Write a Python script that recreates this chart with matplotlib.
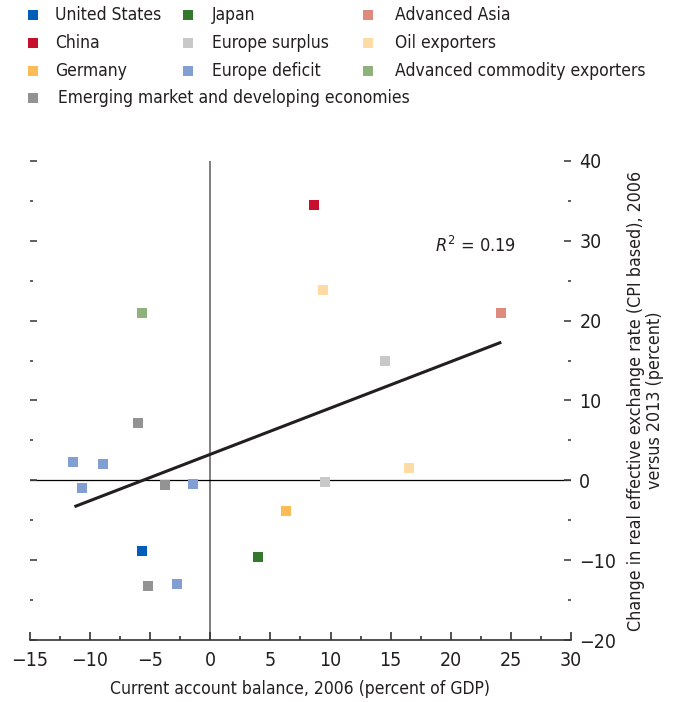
import matplotlib
matplotlib.use("Agg")
import matplotlib.pyplot as plt
from matplotlib import font_manager as fm
from matplotlib.lines import Line2D
from matplotlib.ticker import MultipleLocator

# pick a narrow sans face if one is around
faces = {(f.name, f.stretch) for f in fm.fontManager.ttflist}
if any(n == 'Liberation Sans Narrow' for n, _ in faces):
    base, stretch = 'Liberation Sans Narrow', 'normal'
elif ('DejaVu Sans', 'condensed') in faces:
    base, stretch = 'DejaVu Sans', 'condensed'
else:
    base, stretch = 'Liberation Sans', 'normal'

plt.rcParams['font.family'] = [base, 'DejaVu Sans']
plt.rcParams['font.stretch'] = stretch
plt.rcParams['mathtext.fontset'] = 'custom'
plt.rcParams['mathtext.it'] = f'{base}:italic'
plt.rcParams['mathtext.rm'] = base

# current account 2006 (% of GDP) vs REER change 2006-2013 (%)
groups = ['United States', 'Japan', 'Advanced Asia',
          'China', 'Europe surplus', 'Oil exporters',
          'Germany', 'Europe deficit', 'Advanced commodity exporters',
          'Emerging market and developing economies']
colors = ['#005EB8', '#34782E', '#E08A7E',
          '#C8102E', '#C8C8C8', '#FDDBA4',
          '#FDBB55', '#829FD4', '#8FB27C',
          '#939393']
ca_2006 = {
    'United States': [-5.7],
    'Japan': [4.0],
    'Advanced Asia': [24.2],
    'China': [8.6],
    'Europe surplus': [14.5, 9.5],
    'Oil exporters': [9.4, 16.5],
    'Germany': [6.3],
    'Europe deficit': [-11.4, -8.9, -10.7, -1.4, -2.8],
    'Advanced commodity exporters': [-5.7],
    'Emerging market and developing economies': [-6.0, -3.8, -5.2],
}
reer_change = {
    'United States': [-8.9],
    'Japan': [-9.6],
    'Advanced Asia': [21.0],
    'China': [34.5],
    'Europe surplus': [15.0, -0.2],
    'Oil exporters': [23.9, 1.6],
    'Germany': [-3.9],
    'Europe deficit': [2.3, 2.1, -1.0, -0.5, -13.0],
    'Advanced commodity exporters': [21.0],
    'Emerging market and developing economies': [7.2, -0.6, -13.2],
}
fit_x = [-11.3, 24.2]
fit_y = [-3.3, 17.3]
r_squared = 0.19

fig = plt.figure(figsize=(6.81, 7.02), dpi=100)
ax = fig.add_axes([0.044, 0.0883, 0.7945, 0.6824])

txt = '#231f20'
ax.axvline(0, color='#7f7f7f', lw=1.4, zorder=1)
ax.axhline(0, color='#000000', lw=0.9, zorder=1)
ax.plot(fit_x, fit_y, color='#231f20', lw=2.2, zorder=3, solid_capstyle='butt')

for g, c in zip(groups, colors):
    ax.scatter(ca_2006[g], reer_change[g], marker='s', s=55, color=c,
               linewidths=0, zorder=2)

ax.text(18.7, 29.4, f'$R^2$ = {r_squared:.2f}',
        fontsize=13, color=txt, ha='left', va='center')

ax.set_xlim(-15, 30)
ax.set_ylim(-20, 40)
ax.xaxis.set_major_locator(MultipleLocator(5))
ax.xaxis.set_minor_locator(MultipleLocator(2.5))
ax.yaxis.set_major_locator(MultipleLocator(10))
ax.yaxis.set_minor_locator(MultipleLocator(5))

for s in ['top', 'left', 'right']:
    ax.spines[s].set_visible(False)
ax.spines['bottom'].set_color('#333333')
ax.spines['bottom'].set_linewidth(1.2)

ax.tick_params(axis='x', which='both', direction='in', color='#333333',
               labelsize=14, labelcolor=txt, pad=8)
ax.tick_params(axis='x', which='major', length=6, width=1.2)
ax.tick_params(axis='x', which='minor', length=3, width=1.2)
ax.tick_params(axis='y', which='both', direction='in', left=True, right=True,
               labelleft=False, labelright=True, color='#444444',
               labelsize=14, labelcolor=txt, pad=6)
ax.tick_params(axis='y', which='major', length=5, width=1.2)
ax.tick_params(axis='y', which='minor', length=2.5, width=1.2)

ax.set_xlabel('Current account balance, 2006 (percent of GDP)',
              fontsize=12.6, color=txt, labelpad=7)
ax.yaxis.set_label_position('right')
ax.set_ylabel('Change in real effective exchange rate (CPI based), 2006\nversus 2013 (percent)',
              fontsize=12.8, color=txt, labelpad=8, linespacing=1.05)

# legend drawn by hand: three columns plus a full-width last row
W, H = 681, 702
marker_x = [33, 188, 368]
text_x = [55, 212, 395]
row_y = [15, 43, 71]
for i, (g, c) in enumerate(zip(groups, colors)):
    if i < 9:
        mx, tx, my = marker_x[i % 3], text_x[i % 3], row_y[i // 3]
    else:
        mx, tx, my = 33, 58, 98
    fig.add_artist(Line2D([mx / W], [1 - my / H], marker='s', markersize=7.5,
                          color=c, markeredgewidth=0, transform=fig.transFigure))
    fig.text(tx / W, 1 - my / H, g, fontsize=12.5, color=txt,
             ha='left', va='center')

fig.savefig('out.png', dpi=100)
